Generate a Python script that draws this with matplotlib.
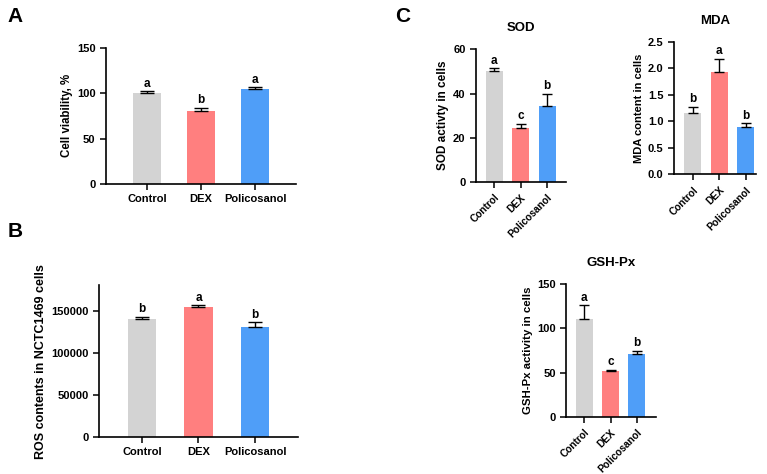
import matplotlib
matplotlib.use("Agg")
import matplotlib.pyplot as plt
import numpy as np

plt.rcParams['font.family'] = ['Liberation Sans', 'DejaVu Sans']
plt.rcParams['font.weight'] = 'bold'
plt.rcParams['axes.labelweight'] = 'bold'
plt.rcParams['axes.titleweight'] = 'bold'

groups = ["Control", "DEX", "Policosanol"]
colors = ["#d3d3d3", "#ff7f7f", "#4f9ef8"]

# panel A
via_mean = [100, 80, 105]
via_err = [2, 4, 1.5]
via_sig = ["a", "b", "a"]

# panel B
ros_mean = [140500, 154000, 130500]
ros_err = [2500, 2200, 5500]
ros_sig = ["b", "a", "b"]

# panel C
sod_mean = [50.2, 24.5, 34.5]
sod_err = [1.3, 1.8, 5.3]
sod_sig = ["a", "c", "b"]

mda_mean = [1.16, 1.93, 0.89]
mda_err = [0.11, 0.25, 0.07]
mda_sig = ["b", "a", "b"]

gsh_mean = [110, 51.5, 70.5]
gsh_err = [16, 1.8, 4]
gsh_sig = ["a", "c", "b"]


def bar_panel(ax, means, errs, sig, ylim, yticks, ylabel, width, xlim,
              rotate=False, title=None, tickfmt=None, labsize=8.5, cap=4):
    x = np.arange(len(groups))
    ax.bar(x, means, width=width, color=colors, zorder=2)
    ax.errorbar(x, means, yerr=[np.zeros(len(errs)), errs], fmt="none",
                ecolor="black", elinewidth=1.0, capsize=cap, capthick=1.0, zorder=3)
    pad = (ylim[1] - ylim[0]) * 0.012
    for xi, m, e, s in zip(x, means, errs, sig):
        ax.text(xi, m + e + pad, s, ha="center", va="bottom",
                fontsize=8.5, fontweight="bold")
    ax.set_xlim(*xlim)
    ax.set_ylim(*ylim)
    ax.set_yticks(yticks)
    if tickfmt:
        ax.set_yticklabels([tickfmt.format(t) for t in yticks])
    ax.set_xticks(x)
    ax.tick_params(axis="both", labelsize=8, width=1.1, length=4, direction="out")
    if rotate:
        ax.set_xticklabels(groups, rotation=45, ha="right", rotation_mode="anchor")
        ax.tick_params(axis="x", labelsize=7.3)
    else:
        ax.set_xticklabels(groups)
    ax.set_ylabel(ylabel, fontsize=labsize, labelpad=3)
    for sp in ["top", "right"]:
        ax.spines[sp].set_visible(False)
    for sp in ["left", "bottom"]:
        ax.spines[sp].set_linewidth(1.2)
    for lab in ax.get_xticklabels() + ax.get_yticklabels():
        lab.set_fontweight("bold")
    if title:
        ax.set_title(title, fontsize=9.5, pad=13)


fig = plt.figure(figsize=(7.67, 4.74), dpi=100)

axA = fig.add_axes([0.1382, 0.6118, 0.2478, 0.2876])
bar_panel(axA, via_mean, via_err, via_sig, (0, 150), [0, 50, 100, 150],
          "Cell viability, %", 0.52, (-0.76, 2.76), labsize=8.3, cap=5)

axB = fig.add_axes([0.129, 0.078, 0.2595, 0.320])
bar_panel(axB, ros_mean, ros_err, ros_sig, (0, 180000),
          [0, 50000, 100000, 150000], "ROS contents in NCTC1469 cells",
          0.5, (-0.76, 2.76), labsize=9.0, cap=5)

axS = fig.add_axes([0.6206, 0.616, 0.1174, 0.280])
bar_panel(axS, sod_mean, sod_err, sod_sig, (0, 60), [0, 20, 40, 60],
          "SOD activty in cells", 0.65, (-0.7, 2.72), rotate=True, title="SOD",
          labsize=8.5, cap=3.5)

axM = fig.add_axes([0.8787, 0.632, 0.107, 0.280])
bar_panel(axM, mda_mean, mda_err, mda_sig, (0, 2.5),
          [0, 0.5, 1.0, 1.5, 2.0, 2.5], "MDA content in cells", 0.65,
          (-0.72, 2.4), rotate=True, title="MDA", tickfmt="{:.1f}",
          labsize=8.0, cap=3.5)

axG = fig.add_axes([0.738, 0.1203, 0.117, 0.2807])
bar_panel(axG, gsh_mean, gsh_err, gsh_sig, (0, 150), [0, 50, 100, 150],
          "GSH-Px activity in cells", 0.65, (-0.7, 2.72), rotate=True,
          title="GSH-Px", labsize=8.2, cap=3.5)

fig.text(0.010, 0.985, "A", fontsize=15, fontweight="bold", va="top")
fig.text(0.010, 0.532, "B", fontsize=15, fontweight="bold", va="top")
fig.text(0.515, 0.985, "C", fontsize=15, fontweight="bold", va="top")

fig.savefig("out.png", dpi=100)
